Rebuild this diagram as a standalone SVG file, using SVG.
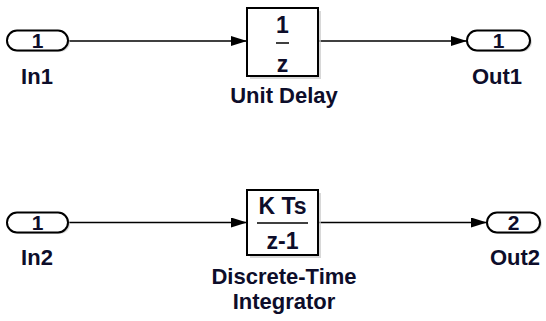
<svg xmlns="http://www.w3.org/2000/svg" width="546" height="321" viewBox="0 0 546 321">
<defs>
<style>
.port{fill:#fff;stroke:#000;stroke-width:2}
.blk{fill:#fff;stroke:#000;stroke-width:2}
.shadow{fill:#c8c8c8;stroke:none;opacity:0.7}
.lbl{font-family:"Liberation Sans",Arial,sans-serif;font-weight:bold;font-size:22px;fill:#0d0d2a;text-anchor:middle}
.num{font-family:"Liberation Sans",Arial,sans-serif;font-weight:bold;font-size:21px;fill:#0d0d2a;text-anchor:middle}
.bnum{font-family:"Liberation Sans",Arial,sans-serif;font-weight:bold;font-size:23px;fill:#0d0d2a;text-anchor:middle}
.wire{fill:none;stroke:#000;stroke-width:1.5}
.frac{stroke:#000;stroke-width:1.5}
</style>
<marker id="arr" viewBox="0 0 16 10" refX="16" refY="5" markerWidth="16" markerHeight="10" markerUnits="userSpaceOnUse" orient="auto">
<path d="M0,0 L16,5 L0,10 Z" fill="#000"/>
</marker>
</defs>
<g id="connectors">
<line class="wire" x1="68" y1="41" x2="247" y2="41" marker-end="url(#arr)"/>
<line class="wire" x1="318" y1="41" x2="467" y2="41" marker-end="url(#arr)"/>
<line class="wire" x1="68" y1="222.5" x2="247" y2="222.5" marker-end="url(#arr)"/>
<line class="wire" x1="318" y1="222.5" x2="487" y2="222.5" marker-end="url(#arr)"/>
</g>
<g id="In1">
<rect class="shadow" x="9" y="32" width="61" height="20" rx="10"/>
<rect class="port" x="7" y="30.5" width="61" height="20" rx="10"/>
<text class="num" x="37.5" y="48">1</text>
<text class="lbl" x="37" y="84">In1</text>
</g>
<g id="UnitDelay">
<rect class="shadow" x="250" y="11" width="71" height="68"/>
<rect class="blk" x="247" y="8" width="71" height="68"/>
<text class="bnum" x="282.5" y="33">1</text>
<line class="frac" x1="276" y1="43" x2="289" y2="43"/>
<text class="bnum" x="282.5" y="72">z</text>
<text class="lbl" x="284" y="103">Unit Delay</text>
</g>
<g id="Out1">
<rect class="shadow" x="469" y="32" width="63" height="20" rx="10"/>
<rect class="port" x="467" y="30.5" width="63" height="20" rx="10"/>
<text class="num" x="498.5" y="48">1</text>
<text class="lbl" x="497" y="84">Out1</text>
</g>
<g id="In2">
<rect class="shadow" x="9" y="214" width="61" height="20" rx="10"/>
<rect class="port" x="7" y="212.5" width="61" height="20" rx="10"/>
<text class="num" x="37.5" y="230">1</text>
<text class="lbl" x="37" y="265">In2</text>
</g>
<g id="DiscreteTimeIntegrator">
<rect class="shadow" x="250" y="193" width="71" height="65"/>
<rect class="blk" x="247" y="190" width="71" height="65"/>
<text class="bnum" x="282.5" y="214">K Ts</text>
<line class="frac" x1="257" y1="223" x2="308" y2="223"/>
<text class="bnum" x="282.5" y="249">z-1</text>
<text class="lbl" x="284" y="284">Discrete-Time</text>
<text class="lbl" x="284" y="309">Integrator</text>
</g>
<g id="Out2">
<rect class="shadow" x="489" y="214" width="53" height="20" rx="10"/>
<rect class="port" x="487" y="212.5" width="53" height="20" rx="10"/>
<text class="num" x="513.5" y="230">2</text>
<text class="lbl" x="515" y="265">Out2</text>
</g>
</svg>
